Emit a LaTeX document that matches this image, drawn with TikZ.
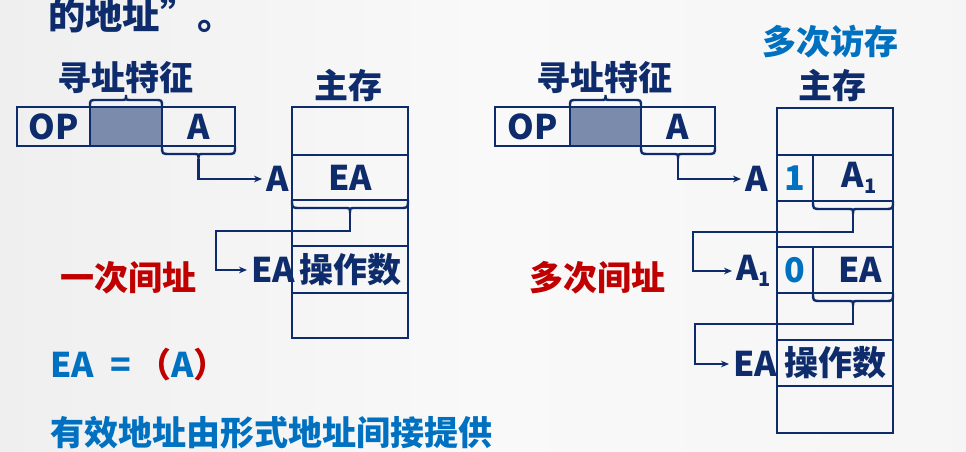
\documentclass[tikz,border=0pt]{standalone}
\usepackage{fontspec}
\setmainfont{Noto Sans CJK SC}
\usetikzlibrary{arrows.meta}
\definecolor{navy}{HTML}{0E2B6B}
\definecolor{sblue}{HTML}{0070C0}
\definecolor{sred}{HTML}{C00000}
\definecolor{shd}{HTML}{7B8BAB}
\definecolor{bgl}{HTML}{EFEFEF}
\definecolor{bgm}{HTML}{F9F9F9}
\newcommand\fnt{\fontsize{25.5}{28}\selectfont\bfseries}
\newcommand\subone{\raisebox{-4.5pt}{\fontsize{15}{15}\selectfont\bfseries 1}}
\newcommand\bracedown[4]{%
  \pgfmathsetmacro\bm{(#1+#2)/2}%
  \draw[brc] (#1,#3) .. controls (#1,#3+8) .. (#1+8,#3+8) -- (\bm-5,#3+8)
     .. controls (\bm,#3+8) .. (\bm,#3+13) .. controls (\bm,#3+8) .. (\bm+5,#3+8)
     -- (#2-8,#3+8) .. controls (#2,#3+8) .. (#2,#3);
  \coordinate (#4) at (\bm,#3+13);}
\newcommand\braceup[4]{%
  \pgfmathsetmacro\bm{(#1+#2)/2}%
  \draw[brc] (#1,#3) .. controls (#1,#3-7) .. (#1+7,#3-7) -- (\bm-5,#3-7)
     .. controls (\bm,#3-7) .. (\bm,#3-12) .. controls (\bm,#3-7) .. (\bm+5,#3-7)
     -- (#2-7,#3-7) .. controls (#2,#3-7) .. (#2,#3);
  \coordinate (#4) at (\bm,#3-12);}
\begin{document}
\begin{tikzpicture}[x=0.75pt,y=-0.75pt,
  cell/.style={draw=navy,line width=2.2pt,inner sep=0pt,text=navy,font=\fnt,minimum height=29.25pt},
  mcell/.style={draw=navy,line width=2.2pt,inner sep=0pt,text=navy,font=\fnt,minimum width=87pt},
  brc/.style={draw=navy,line width=1.8pt},
  conn/.style={draw=navy,line width=1.8pt,-{Stealth[length=6pt,width=5pt]}},
  lab/.style={inner sep=0pt,outer sep=3pt,text=navy,font=\fnt,anchor=west},
  ttl/.style={inner sep=0pt,text=navy,font=\fnt},
  redt/.style={inner sep=0pt,text=sred,font=\fnt},
  bluet/.style={inner sep=0pt,text=sblue,font=\fnt}]
\useasboundingbox (0,0) rectangle (966,452);
\shade[left color=bgl,right color=bgl!60!white,middle color=bgm] (0,0) rectangle (966,452);

% top fragment
\node[ttl,anchor=west,font=\fontsize{28}{30}\selectfont\bfseries] (frag) at (48,15) {的地址”。};

% ---------- left ----------
\node[ttl] (tz1) at (125.5,78) {寻址特征};
\node[ttl] (zc1) at (348,86) {主存};
\node[cell,minimum width=54.75pt] (op1) at (53.5,126.5) {OP};
\node[cell,minimum width=54pt,fill=shd] (sh1) at (126,126.5) {};
\node[cell,minimum width=54.75pt] (af1) at (198.5,126.5) {A};

\node[mcell,minimum height=36pt] (m1) at (350,131) {};
\node[mcell,minimum height=33.75pt] (m2) at (350,177.5) {EA};
\node[mcell,minimum height=34.5pt] (m3) at (350,223) {};
\node[mcell,minimum height=35.25pt] (m4) at (350,269.5) {操作数};
\node[mcell,minimum height=33.75pt] (m5) at (350,315.5) {};

\braceup{90}{162}{107}{bt1}
\bracedown{162}{235}{146}{bb1}
\bracedown{292}{408}{200}{bm1}

\node[lab] (la1) at (262,179) {A};
\node[lab] (lea1) at (247,270) {EA};
\coordinate (k1) at (350,231);
\coordinate (k2) at (216,231);
\draw[conn] (bb1) |- (la1.west);
\draw[conn] (bm1) -- (k1) -- (k2) |- (lea1.west);

\node[redt] (yc) at (128,278) {一次间址};
\node[bluet,anchor=west] (eq) at (50,365) {EA\hspace{12pt}=\hspace{5pt}{\color{sred}（}A{\color{sred}）}};
\node[bluet,anchor=west] (desc) at (50,433) {有效地址由形式地址间接提供};

% ---------- right ----------
\node[bluet] (dc) at (830,42) {多次访存};
\node[ttl] (tz2) at (604,78) {寻址特征};
\node[ttl] (zc2) at (832,86) {主存};
\node[cell,minimum width=56.25pt] (op2) at (532.5,126.5) {OP};
\node[cell,minimum width=53.25pt,fill=shd] (sh2) at (605.5,126.5) {};
\node[cell,minimum width=55.5pt] (af2) at (678,126.5) {A};

\node[mcell,minimum height=35.25pt] (r1) at (835,131.5) {};
\node[cell,minimum width=27pt,minimum height=34.5pt,text=sblue] (r2a) at (795,178) {1};
\node[cell,minimum width=60pt,minimum height=34.5pt] (r2b) at (853,178) {\hspace*{9pt}A\subone};
\node[mcell,minimum height=34.5pt] (r3) at (835,224) {};
\node[cell,minimum width=27pt,minimum height=34.5pt,text=sblue] (r4a) at (795,270) {0};
\node[cell,minimum width=60pt,minimum height=34.5pt] (r4b) at (853,270) {\hspace*{11pt}EA};
\node[mcell,minimum height=35.25pt] (r5) at (835,316.5) {};
\node[mcell,minimum height=34.5pt] (r6) at (835,363) {操作数};
\node[mcell,minimum height=35.25pt] (r7) at (835,409.5) {};

\braceup{570}{641}{107}{bt2}
\bracedown{641}{715}{146}{bb2}
\bracedown{813}{893}{201}{bm2}
\bracedown{813}{893}{293}{bm3}

\node[lab] (la2) at (741,179) {A};
\node[lab] (la3) at (732,271) {A\subone};
\node[lab] (lea2) at (729,364) {EA};
\coordinate (k3) at (853,232);
\coordinate (k4) at (693,232);
\coordinate (k5) at (853,324);
\coordinate (k6) at (695,324);
\draw[conn] (bb2) |- (la2.west);
\draw[conn] (bm2) -- (k3) -- (k4) |- (la3.west);
\draw[conn] (bm3) -- (k5) -- (k6) |- (lea2.west);

\node[redt] (dj) at (597,278) {多次间址};
\end{tikzpicture}
\end{document}
